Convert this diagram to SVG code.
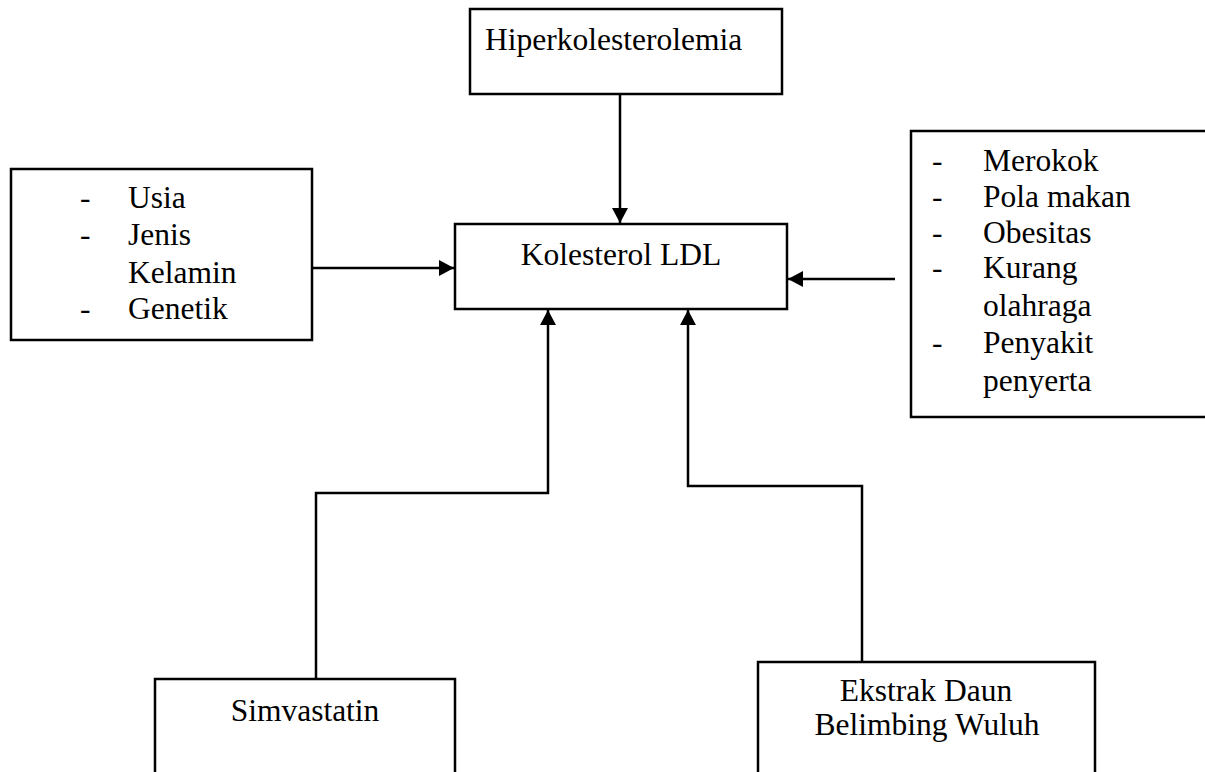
<svg xmlns="http://www.w3.org/2000/svg" width="1205" height="772" viewBox="0 0 1205 772">
<style>
.box{fill:#fff;stroke:#000;stroke-width:2.5}
.t{font-size:31.5px;fill:#000}
.c{text-anchor:middle}
.ln{fill:none;stroke:#000;stroke-width:2.5}
</style>
<defs>
<marker id="ah" viewBox="0 0 15 16" refX="15" refY="8" markerWidth="15" markerHeight="16" markerUnits="userSpaceOnUse" orient="auto">
<path d="M0,0 L15,8 L0,16 Z" fill="#000"/>
</marker>
</defs>
<g id="connectors">
<line class="ln" x1="620" y1="94" x2="620" y2="223" marker-end="url(#ah)"/>
<line class="ln" x1="312" y1="268" x2="454" y2="268" marker-end="url(#ah)"/>
<line class="ln" x1="895" y1="279" x2="788" y2="279" marker-end="url(#ah)"/>
<polyline class="ln" points="316,679 316,493 548,493 548,310" marker-end="url(#ah)"/>
<polyline class="ln" points="862,662 862,486 688,486 688,310" marker-end="url(#ah)"/>
</g>
<g font-family="Liberation Serif, DejaVu Serif, serif">
<g id="hiperkolesterolemia">
<rect class="box" x="470" y="9" width="312" height="85"/>
<text class="t" x="485" y="50">Hiperkolesterolemia</text>
</g>
<g id="kolesterol-ldl">
<rect class="box" x="455" y="224" width="332" height="85"/>
<text class="t c" x="621" y="265">Kolesterol LDL</text>
</g>
<g id="faktor-kiri">
<rect class="box" x="11" y="169" width="301" height="171"/>
<text class="t" x="80" y="208">-</text><text class="t" x="128" y="208">Usia</text>
<text class="t" x="80" y="245">-</text><text class="t" x="128" y="245">Jenis</text>
<text class="t" x="128" y="283">Kelamin</text>
<text class="t" x="80" y="319">-</text><text class="t" x="128" y="319">Genetik</text>
</g>
<g id="faktor-kanan">
<path class="ln" d="M1206,131 H911 V417 H1206"/>
<text class="t" x="932" y="171">-</text><text class="t" x="983" y="171">Merokok</text>
<text class="t" x="932" y="207">-</text><text class="t" x="983" y="207">Pola makan</text>
<text class="t" x="932" y="243">-</text><text class="t" x="983" y="243">Obesitas</text>
<text class="t" x="932" y="278">-</text><text class="t" x="983" y="278">Kurang</text>
<text class="t" x="983" y="316">olahraga</text>
<text class="t" x="932" y="353">-</text><text class="t" x="983" y="353">Penyakit</text>
<text class="t" x="983" y="391">penyerta</text>
</g>
<g id="simvastatin">
<path class="ln" d="M155,773 V679 H455 V773"/>
<text class="t c" x="305" y="721">Simvastatin</text>
</g>
<g id="ekstrak">
<path class="ln" d="M758,773 V662 H1095 V773"/>
<text class="t c" x="926" y="701">Ekstrak Daun</text>
<text class="t c" x="927" y="735">Belimbing Wuluh</text>
</g>
</g>
</svg>
